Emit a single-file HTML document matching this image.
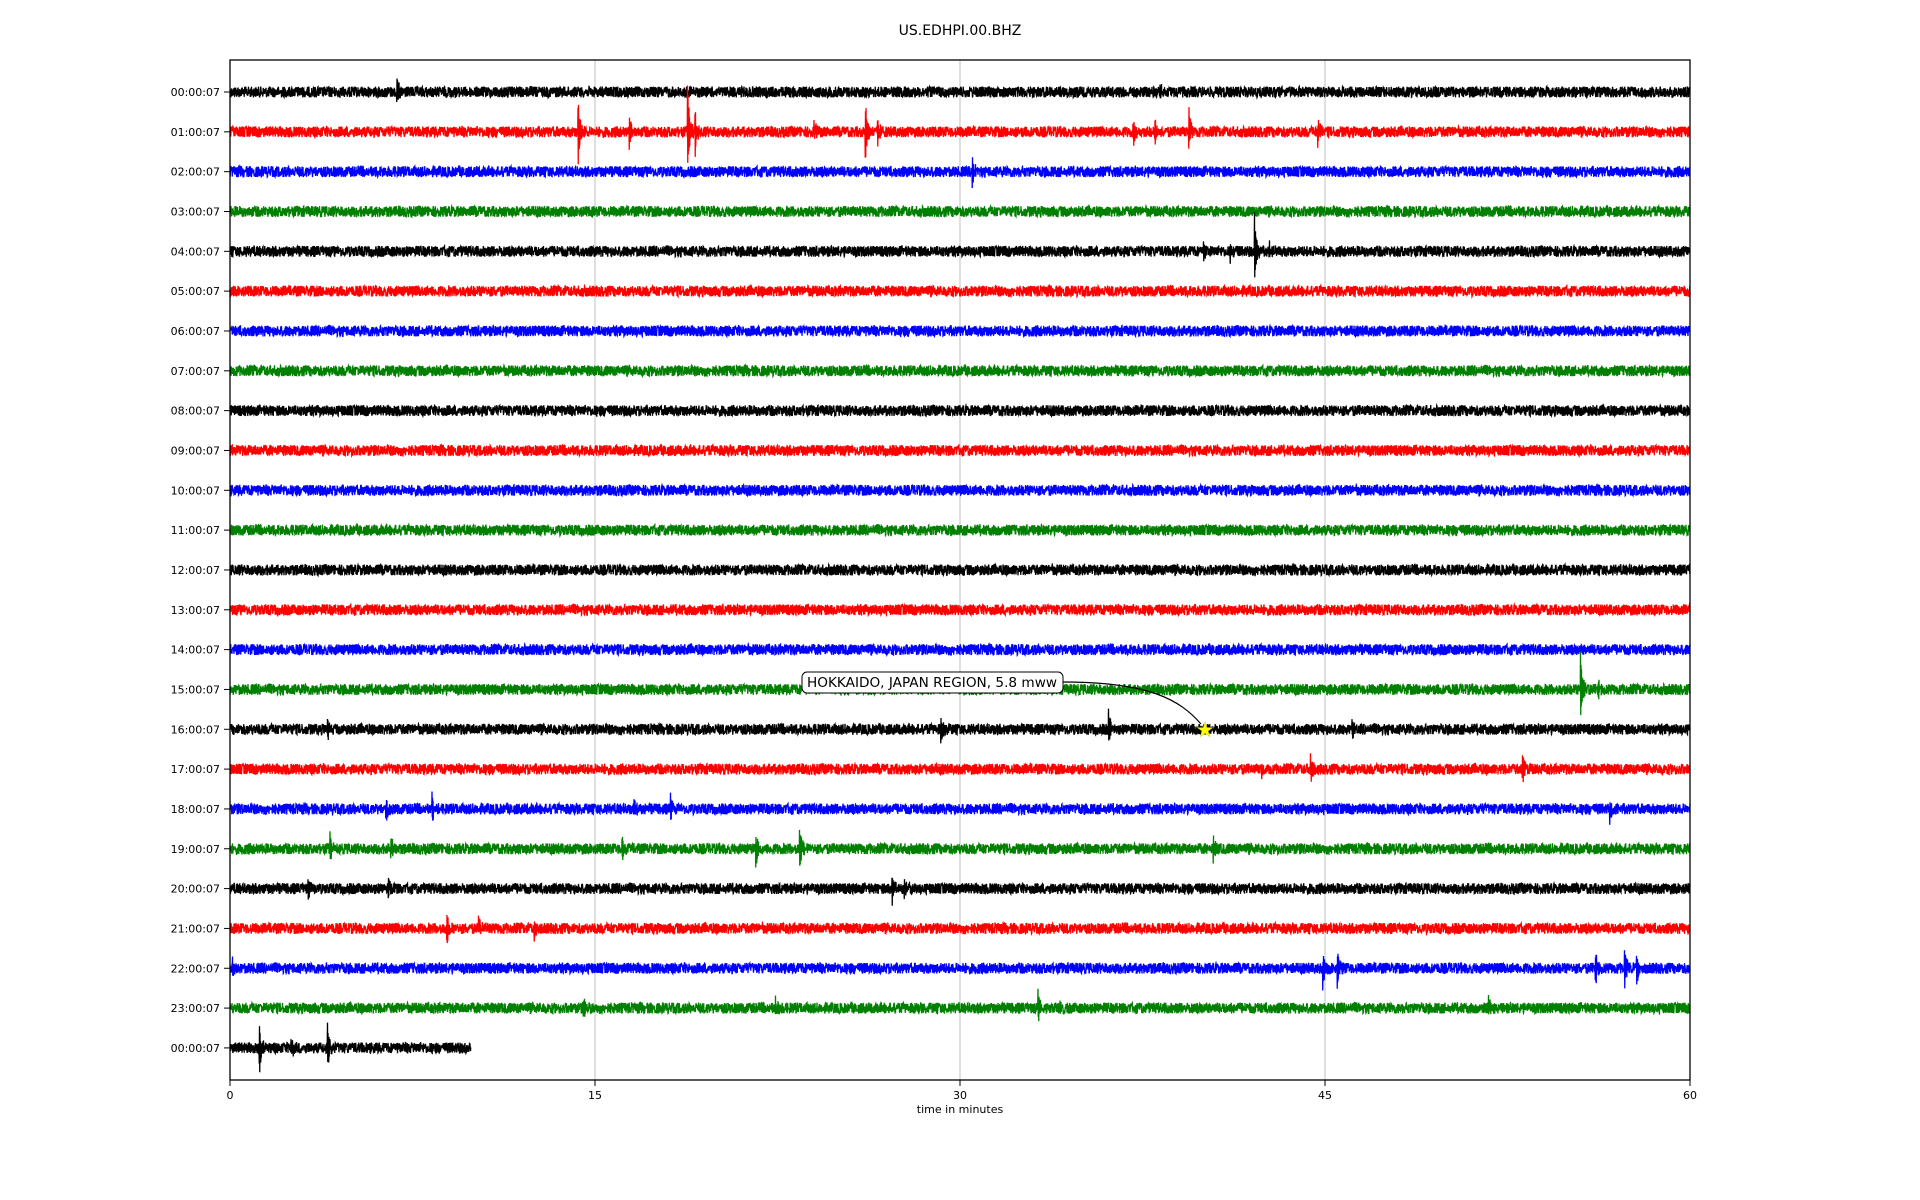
<!DOCTYPE html>
<html><head><meta charset="utf-8"><style>
body{margin:0;background:#fff}
svg{display:block;font-family:"DejaVu Sans","Liberation Sans",sans-serif}
</style></head><body>
<svg id="chart" width="1920" height="1200" viewBox="0 0 1920 1200" xmlns="http://www.w3.org/2000/svg">
<text x="960" y="35" font-size="14" text-anchor="middle">US.EDHPI.00.BHZ</text>
<g id="grid"></g>
<g id="traces"></g>
<rect x="230" y="60" width="1460" height="1020" fill="none" stroke="#000" stroke-width="1.3"/>
<g id="yticks"></g>
<g id="xticks"></g>
<text x="960" y="1113" font-size="11" text-anchor="middle">time in minutes</text>
<path d="M1063,682 C1150,682 1180,700 1201,724" fill="none" stroke="#000" stroke-width="1.2"/>
<rect x="802" y="672" width="261" height="21" rx="5" fill="#fff" stroke="#000" stroke-width="1"/>
<text x="932" y="687" font-size="13.5" text-anchor="middle" textLength="250" lengthAdjust="spacingAndGlyphs">HOKKAIDO, JAPAN REGION, 5.8 mww</text>
<text id="star" font-size="20" fill="#ffff00" stroke="#cccc00" stroke-width="0.5" text-anchor="middle">★</text>
</svg>
<script>
const rowLabels=["00:00:07","01:00:07","02:00:07","03:00:07","04:00:07","05:00:07","06:00:07","07:00:07","08:00:07","09:00:07","10:00:07","11:00:07","12:00:07","13:00:07","14:00:07","15:00:07","16:00:07","17:00:07","18:00:07","19:00:07","20:00:07","21:00:07","22:00:07","23:00:07","00:00:07"];
const xTicks=[0,15,30,45,60];
const rowEnd=[60,60,60,60,60,60,60,60,60,60,60,60,60,60,60,60,60,60,60,60,60,60,60,60,9.9];
// events: [row, minute, amplitude(px)]
const evRow=[0,0,1,1,1,1,1,1,1,1,1,1,1,2,4,4,4,4,15,15,16,16,16,16,17,17,17,18,18,18,18,18,19,19,19,19,19,19,20,20,20,20,21,21,21,22,22,22,22,22,22,23,23,23,23,23,24,24,24];
const evMin=[6.85,38.2,14.3,16.4,18.8,19.1,26.1,26.6,37.1,38.0,39.4,44.7,24.0,30.5,41.1,42.1,42.7,40.0,55.5,56.2,4.0,29.2,36.1,46.1,44.4,53.1,42.4,6.4,8.3,18.1,16.6,56.7,4.1,6.6,16.1,21.6,23.4,40.4,3.2,6.5,27.2,27.7,8.9,10.2,12.5,0.1,44.9,45.5,56.1,57.3,57.8,14.5,22.4,33.2,34.1,51.7,1.2,4.0,2.5];
const evAmp=[17,8,34,16,60,28,36,16,16,16,24,18,10,20,12,36,12,10,38,16,12,16,20,12,16,20,12,14,16,14,12,18,16,14,18,26,26,16,12,10,20,12,20,14,14,12,22,18,26,26,18,14,12,20,14,12,28,26,14];
const colors=["#000000","#ff0000","#0000ff","#008000"];
const X0=230,X1=1690,Y0=92,DY=39.83;
const xs=m=>X0+(X1-X0)*m/60;
const ys=r=>Y0+r*DY;
const NS="http://www.w3.org/2000/svg";
function mk(t,a,p){const e=document.createElementNS(NS,t);for(const k in a)e.setAttribute(k,a[k]);p.appendChild(e);return e;}
let seed=12345;function rnd(){seed=(seed*1103515245+12345)&0x7fffffff;return seed/0x7fffffff;}
const grid=document.getElementById('grid'),yt=document.getElementById('yticks'),xt=document.getElementById('xticks'),tr=document.getElementById('traces');
xTicks.forEach(v=>{
  if(v>0&&v<60){const g=mk('line',{x1:xs(v),x2:xs(v),y1:60,y2:1080,stroke:'#b0b0b0','stroke-width':0.8},grid);
  
  }
  const tk=mk('line',{x1:xs(v),x2:xs(v),y1:1080,y2:1086,stroke:'#000'},xt);
  
  
  const t=mk('text',{x:xs(v),y:1099,'font-size':11,'text-anchor':'middle'},xt);t.textContent=v;
  
  
});
rowLabels.forEach((lab,r)=>{
  const y=ys(r);
  const tk=mk('line',{x1:224,x2:230,y1:y,y2:y,stroke:'#000'},yt);
  
  
  const t=mk('text',{x:220,y:y+4,'font-size':11,'text-anchor':'end'},yt);t.textContent=lab;
  
  
  const end=xs(rowEnd[r]);let d='';let up=1;
  for(let x=X0;x<=end;x+=0.25){
    const m=(x-X0)/(X1-X0)*60;
    let v=(rnd()-0.5)*11;
    for(let i=0;i<evRow.length;i++){if(evRow[i]!==r)continue;const dm=m-evMin[i];
      if(dm>=0&&dm<0.35){const env=Math.exp(-dm*14);v+=(up?-1:1)*evAmp[i]*env*(0.6+0.4*rnd());}}
    up=1-up;
    d+=(d?'L':'M')+x.toFixed(2)+','+(y+v).toFixed(1);
  }
  const p=mk('path',{d:d,fill:'none',stroke:colors[r%4],'stroke-width':1.3},tr);
  
  
});
const st=document.getElementById('star');st.setAttribute('x',xs(40.07));st.setAttribute('y',ys(16)+7);
</script>
</body></html>
